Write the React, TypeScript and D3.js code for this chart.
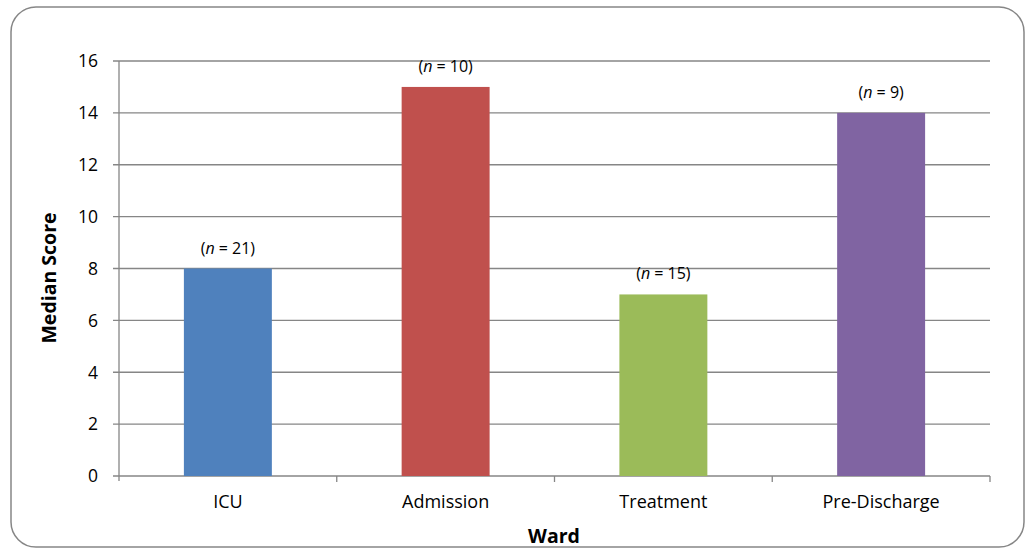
import React from "react";
import * as d3 from "d3";

const categories = ["ICU", "Admission", "Treatment", "Pre-Discharge"];
const medians = [8, 15, 7, 14];
const nValues = [21, 10, 15, 9];
const colors = ["#4F81BD", "#C0504D", "#9BBB59", "#8064A2"];
const yTicks = [0, 2, 4, 6, 8, 10, 12, 14, 16];

const W = 1028;
const H = 549;
const plot = { left: 119, right: 990, top: 61, bottom: 476 };
const FONT = "'Open Sans', 'Liberation Sans', sans-serif";

export default function App() {
  const x = d3
    .scaleBand<string>()
    .domain(categories)
    .range([plot.left, plot.right])
    .paddingInner(0.596)
    .paddingOuter(0.298);
  const xb = d3.scaleBand<string>().domain(categories).range([plot.left, plot.right]);
  const y = d3.scaleLinear().domain([0, 16]).range([plot.bottom, plot.top]);
  const grid = "#868686";

  return (
    <svg
      width={W}
      height={H}
      style={{ position: "absolute", left: 0, top: 0, background: "#fff" }}
      fontFamily={FONT}
    >
      <rect x={11} y={7} width={1013} height={540} rx={25} ry={25} fill="#fff" stroke="#868686" strokeWidth={1.5} />
      {yTicks.map((t) => (
        <g key={t}>
          <line x1={plot.left - 6} x2={plot.right} y1={y(t)} y2={y(t)} stroke={grid} strokeWidth={1.3} />
          <text x={98} y={y(t)} dy="0.36em" textAnchor="end" fontSize={17.5} fill="#000">
            {t}
          </text>
        </g>
      ))}
      <line x1={plot.left} x2={plot.left} y1={plot.top} y2={plot.bottom + 5} stroke={grid} strokeWidth={1.3} />
      {categories.map((c, i) => (
        <line
          key={"t" + i}
          x1={(xb(c) as number) + xb.bandwidth()}
          x2={(xb(c) as number) + xb.bandwidth()}
          y1={plot.bottom}
          y2={plot.bottom + 6}
          stroke={grid}
          strokeWidth={1.3}
        />
      ))}
      {categories.map((c, i) => {
        const bx = x(c) as number;
        const cx = bx + x.bandwidth() / 2;
        return (
          <g key={c}>
            <rect x={bx} y={y(medians[i])} width={x.bandwidth()} height={plot.bottom - y(medians[i])} fill={colors[i]} />
            <text x={cx} y={y(medians[i]) - 15} textAnchor="middle" fontSize={16} fill="#000">
              (<tspan fontStyle="italic">n</tspan> = {nValues[i]})
            </text>
            <text x={cx} y={508} textAnchor="middle" fontSize={18} fill="#000">
              {c}
            </text>
          </g>
        );
      })}
      <text x={554} y={543} textAnchor="middle" fontSize={19.5} fontWeight="bold" fill="#000">
        Ward
      </text>
      <text
        transform={`translate(56, 278) rotate(-90)`}
        textAnchor="middle"
        fontSize={19.5}
        fontWeight="bold"
        fill="#000"
      >
        Median Score
      </text>
    </svg>
  );
}
